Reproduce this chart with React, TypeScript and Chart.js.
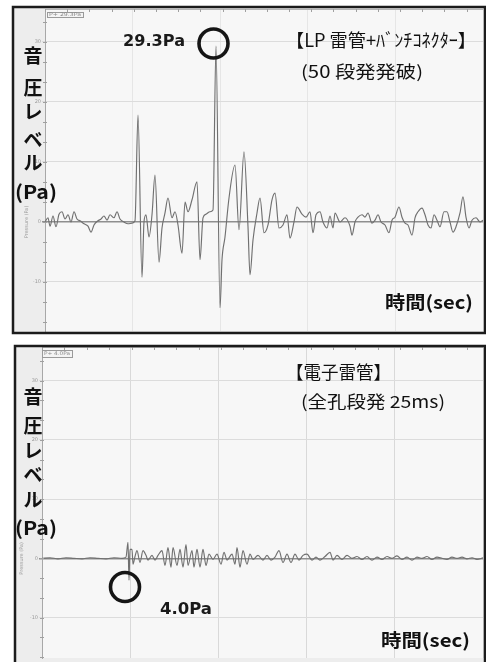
import React, { useEffect, useRef } from "react";
import { Chart, registerables } from "chart.js";

Chart.register(...registerables);

// ---------- DATA ----------
// Upper panel: LP detonator + bunch connector (time in arbitrary units, pressure in Pa)
const TOP_TIME = [
  0, 3, 5, 8, 11, 14, 17, 20, 23, 26, 29, 32, 35, 39, 43, 46, 49, 53, 56, 59, 62, 65, 69, 72, 75, 79, 83, 87, 90,
  93, 97, 99, 101, 104, 107, 110, 114, 117, 120, 123, 127, 130, 133, 137, 140, 143, 147, 152, 155, 158, 161, 165, 168,
  171, 175, 177, 180, 184, 190, 194, 199, 203, 205, 208, 212, 215, 219, 223, 227, 230, 234, 238, 242, 245, 249, 252,
  257, 261, 265, 268, 271, 275, 278, 282, 285, 288, 290, 295, 300, 305, 307, 310, 313, 317, 320, 323, 327, 330, 333,
  336, 340, 344, 347, 350, 354, 357, 360, 363, 367, 370, 373, 377, 380, 383, 386, 389, 392, 395, 399, 402, 405, 408,
  411, 415, 418, 421, 424, 427, 431, 435, 438,
];
const TOP_PA = [
  0, 0.7, -0.7, 1.0, -0.8, 1.3, 1.7, 0.5, 1.2, 0, 1.7, 0.5, 0.2, -0.3, -0.7, -1.7, -0.5, 0.2, 0.5, 1.0, 0.3, 1.2, 0.7,
  1.7, 0.5, 0, -0.3, -0.2, 0.2,
  17.8, -9.2, 0, 1.2, -2.5, 1.2, 7.8, -6.7, -1.0, 1.5, 4.0, 0.7, 1.7, -0.5, -5.2, 3.3, 1.7, 3.7, 6.7, -6.3, 0.7, 1.3,
  1.7, 2.0, 29.3, -14.3, -6.3, -2.5, 4.0, 9.5, -1.3, 11.7, -0.8, -8.8, -3.0, 1.5, 4.0, -1.8, -0.5, 3.7, 4.8, -1.0,
  -0.5, 1.2, -2.7, 0, 2.5, 1.3, 0.8, 1.7, -1.8, 1.2, 1.7, 0, -1.0, 1.0, -1.0, 1.5, 0, 0.7, -0.7, -2.2, 0, 0.8, 1.2,
  0.8, 1.5, -0.2, 0.3, 1.2, 0, -0.5, -1.8, 0.3, 0.8, 2.5, 0.8, -0.2, -0.5, -2.2, 0.7, 1.7, 2.3, 1.2, -0.5, -1.0, 1.2,
  0.3, -0.8, 1.7, 1.7, 0, -1.7, -0.8, 1.5, 4.2, 0.8, -1.0, 0.3, 0.7, 0, 0.3,
];

// Lower panel: electronic detonator
const BOTTOM_TIME = [
  0, 8, 16, 24, 32, 40, 48, 56, 64, 72, 80, 84, 86, 87, 88, 90, 91, 93, 95, 98, 101, 104, 106, 110, 113, 116, 120,
  123, 126, 129, 131, 135, 138, 141, 144, 146, 150, 152, 155, 158, 161, 164, 167, 171, 175, 179, 182, 185, 190, 193,
  195, 198, 201, 205, 208, 211, 216, 221, 225, 229, 233, 237, 241, 245, 249, 253, 257, 261, 265, 270, 274, 278, 283,
  288, 291, 295, 300, 305, 310, 315, 320, 325, 330, 335, 340, 345, 350, 355, 360, 365, 370, 375, 380, 385, 390, 395,
  400, 405, 410, 415, 420, 425, 430, 435, 441,
];
const BOTTOM_PA = [
  0, 0.1, -0.1, 0.1, 0, -0.1, 0.1, 0, -0.1, 0.1, 0, 0.2, 2.7, -3.7, 1.5, 1.5, -1.0, 0.3, 1.3, -0.7, 1.3, 0.5, -0.3,
  0.5, -0.3, 0.5, 1.3, -1.2, 1.8, -1.5, 1.8, -1.2, 1.5, -1.5, 2.3, -1.2, 1.3, -1.5, 1.5, -1.5, 1.5, -1.2, 0.7, -0.2,
  0.7, -1.0, 1.0, -0.3, 0.7, -1.0, 1.8, -1.5, 1.3, -1.0, 0.7, -0.2, 0.5, -0.3, 0.5, -0.3, 0.2, 1.3, -0.7, 0.7, -0.7,
  0.7, -0.3, 0.5, 0.7, -0.3, 0.2, -0.3, 0.3, 1.0, -0.3, 0.5, -0.2, 0.5, 0, 0.3, -0.2, 0.3, -0.3, 0.2, -0.2, 0.3, 0,
  0.4, -0.2, 0.2, -0.3, 0.2, 0, 0.3, -0.2, 0.2, 0, -0.2, 0.2, 0, 0.2, -0.1, 0.1, -0.2, 0.1,
];

// Texts
const Y_LABEL_CHARS = ["音", "圧", "レ", "ベ", "ル"];
const UNIT_LABEL = "(Pa)";
const X_LABEL = "時間(sec)";
const AXIS_NAME = "Pressure (Pa)";
const TOP_TITLE = "【LP 雷管+ﾊﾞﾝﾁｺﾈｸﾀｰ】";
const TOP_SUBTITLE = "(50 段発発破)";
const TOP_PEAK = "29.3Pa";
const TOP_TAG = "P+ 29.3Pa";
const BOTTOM_TITLE = "【電子雷管】";
const BOTTOM_SUBTITLE = "(全孔段発 25ms)";
const BOTTOM_PEAK = "4.0Pa";
const BOTTOM_TAG = "P+ 4.0Pa";
const Y_TICK_STEP = 10;

// ---------- helpers ----------
const CJK = '"Noto Sans CJK JP", "Noto Sans", sans-serif';

function fitText(ctx: CanvasRenderingContext2D, text: string, x1: number, x2: number, yc: number, font: string, color = "#111") {
  ctx.save();
  ctx.font = font;
  const w = ctx.measureText(text).width || 1;
  ctx.translate(x1, yc);
  ctx.scale((x2 - x1) / w, 1);
  ctx.fillStyle = color;
  ctx.textAlign = "left";
  ctx.textBaseline = "middle";
  ctx.fillText(text, 0, 0);
  ctx.restore();
}

type Spec = {
  time: number[];
  values: number[];
  canvasH: number;
  offsetY: number;
  padding: { left: number; right: number; top: number; bottom: number };
  axisWidth: number;
  yMin: number;
  yMax: number;
  xMax: number;
  xStep: number;
  gridColor: string;
  border: { x: number; y: number; w: number; h: number };
  charYs: number[];
  unitY: number;
  title: string;
  titleBox: [number, number, number];
  subtitle: string;
  subBox: [number, number, number];
  peak: string;
  peakBox: [number, number, number];
  circle: [number, number];
  xLabelBox: [number, number, number];
  tag: string;
  tagBox: [number, number, number, number];
  axisNameX: number;
};

function makePlugin(s: Spec) {
  const oy = s.offsetY;
  return {
    id: "panelDeco",
    beforeDraw(chart: any) {
      const { ctx, chartArea: a } = chart;
      ctx.save();
      ctx.fillStyle = "#ffffff";
      ctx.fillRect(0, 0, chart.width, chart.height);
      ctx.fillStyle = "#ededed";
      ctx.fillRect(s.border.x, s.border.y, s.border.w, s.border.h);
      ctx.fillStyle = "#f7f7f7";
      ctx.fillRect(a.left, a.top, a.right - a.left, a.bottom - a.top);
      ctx.restore();
    },
    afterDraw(chart: any) {
      const { ctx, chartArea: a } = chart;
      const y = chart.scales.y;
      const x = chart.scales.x;
      ctx.save();
      // top frame line of the plot
      ctx.strokeStyle = "#b5b5b5";
      ctx.lineWidth = 1;
      ctx.beginPath();
      ctx.moveTo(a.left, a.top + 0.5);
      ctx.lineTo(a.right, a.top + 0.5);
      ctx.stroke();
      // minor ticks on y axis
      ctx.strokeStyle = "#a0a0a0";
      for (let k = -6; k <= 12; k++) {
        const v = (k * Y_TICK_STEP) / 3;
        if (v < s.yMin || v > s.yMax) continue;
        const py = Math.round(y.getPixelForValue(v)) + 0.5;
        ctx.beginPath();
        ctx.moveTo(a.left - 2, py);
        ctx.lineTo(a.left + 2, py);
        ctx.stroke();
      }
      // tick marks on top frame
      for (let t = 0; t <= s.xMax; t += s.xStep / 4) {
        const px = Math.round(x.getPixelForValue(t)) + 0.5;
        ctx.beginPath();
        ctx.moveTo(px, a.top);
        ctx.lineTo(px, a.top + 3);
        ctx.stroke();
      }
      // rotated tiny axis name
      ctx.save();
      ctx.translate(s.axisNameX, y.getPixelForValue(0));
      ctx.rotate(-Math.PI / 2);
      ctx.font = '5px "DejaVu Sans"';
      ctx.fillStyle = "#9a9a9a";
      ctx.textAlign = "center";
      ctx.textBaseline = "middle";
      ctx.fillText(AXIS_NAME, 0, 0);
      ctx.restore();
      // tag box
      const [tx1, ty1, tx2, ty2] = s.tagBox;
      ctx.fillStyle = "#f4f4f4";
      ctx.fillRect(tx1, ty1 - oy, tx2 - tx1, ty2 - ty1);
      ctx.strokeStyle = "#9a9a9a";
      ctx.lineWidth = 1;
      ctx.strokeRect(tx1 + 0.5, ty1 - oy + 0.5, tx2 - tx1, ty2 - ty1);
      fitText(ctx, s.tag, tx1 + 2, tx2 - 2, (ty1 + ty2) / 2 - oy, '5px "DejaVu Sans"', "#8a8a8a");

      // panel border
      ctx.strokeStyle = "#1c1c1c";
      ctx.lineWidth = 2.5;
      ctx.strokeRect(s.border.x, s.border.y, s.border.w, s.border.h);

      // y label characters
      ctx.fillStyle = "#111";
      ctx.font = `bold 19px ${CJK}`;
      ctx.textAlign = "center";
      ctx.textBaseline = "middle";
      Y_LABEL_CHARS.forEach((c, i) => ctx.fillText(c, 33, s.charYs[i] - oy));
      fitText(ctx, UNIT_LABEL, 15, 57, s.unitY - oy, `bold 19px ${CJK}`);

      // titles
      fitText(ctx, s.title, s.titleBox[0], s.titleBox[1], s.titleBox[2] - oy, `18px ${CJK}`);
      fitText(ctx, s.subtitle, s.subBox[0], s.subBox[1], s.subBox[2] - oy, `17px ${CJK}`);
      // peak label
      fitText(ctx, s.peak, s.peakBox[0], s.peakBox[1], s.peakBox[2] - oy, 'bold 15px "DejaVu Sans"', "#1a1a1a");
      // circle
      ctx.strokeStyle = "#151515";
      ctx.lineWidth = 3.6;
      ctx.beginPath();
      ctx.arc(s.circle[0], s.circle[1] - oy, 14.5, 0, Math.PI * 2);
      ctx.stroke();
      // x label
      fitText(ctx, X_LABEL, s.xLabelBox[0], s.xLabelBox[1], s.xLabelBox[2] - oy, `bold 18px ${CJK}`);
      ctx.restore();
    },
  };
}

function makeConfig(s: Spec): any {
  const points = s.time.map((t, i) => ({ x: t, y: s.values[i] }));
  return {
    type: "line",
    data: {
      datasets: [
        {
          data: points,
          borderColor: "#707070",
          borderWidth: 1.15,
          pointRadius: 0,
          cubicInterpolationMode: "monotone",
          fill: false,
        },
      ],
    },
    options: {
      responsive: false,
      maintainAspectRatio: false,
      animation: false,
      devicePixelRatio: 1,
      layout: { padding: s.padding },
      plugins: { legend: { display: false }, tooltip: { enabled: false }, title: { display: false } },
      scales: {
        x: {
          type: "linear",
          min: 0,
          max: s.xMax,
          ticks: { display: false, stepSize: s.xStep },
          border: { display: false },
          grid: { color: s.gridColor, lineWidth: 1, drawTicks: false },
          afterFit: (sc: any) => {
            sc.height = 0;
          },
        },
        y: {
          type: "linear",
          min: s.yMin,
          max: s.yMax,
          ticks: {
            stepSize: Y_TICK_STEP,
            includeBounds: false,
            font: { size: 5, family: "DejaVu Sans" },
            color: "#9a9a9a",
            padding: 1,
          },
          border: { color: "#a8a8a8", width: 1 },
          grid: {
            color: (c: any) => (c.tick && c.tick.value === 0 ? "#8f8f8f" : "#dcdcdc"),
            lineWidth: (c: any) => (c.tick && c.tick.value === 0 ? 1.5 : 1),
            tickLength: 3,
          },
          afterFit: (sc: any) => {
            sc.width = s.axisWidth;
          },
        },
      },
    },
    plugins: [makePlugin(s)],
  };
}

const SPEC_TOP: Spec = {
  time: TOP_TIME,
  values: TOP_PA,
  canvasH: 338,
  offsetY: 0,
  padding: { left: 15, right: 3, top: 9, bottom: 7 },
  axisWidth: 30,
  yMin: -18.17,
  yMax: 35.5,
  xMax: 438,
  xStep: 88.75,
  gridColor: "#e6e6e6",
  border: { x: 13, y: 7, w: 472, h: 326 },
  charYs: [56, 88, 112, 140, 163],
  unitY: 192,
  title: TOP_TITLE,
  titleBox: [286, 476, 40],
  subtitle: TOP_SUBTITLE,
  subBox: [301, 423, 72],
  peak: TOP_PEAK,
  peakBox: [123, 185, 42],
  circle: [213.5, 43.5],
  xLabelBox: [385, 473, 302],
  tag: TOP_TAG,
  tagBox: [47, 12, 83, 17],
  axisNameX: 27,
};

const SPEC_BOTTOM: Spec = {
  time: BOTTOM_TIME,
  values: BOTTOM_PA,
  canvasH: 324,
  offsetY: 338,
  padding: { left: 17, right: 3, top: 9, bottom: 0 },
  axisWidth: 25,
  yMin: -16.83,
  yMax: 35.67,
  xMax: 441,
  xStep: 89.5,
  gridColor: "#d9d9d9",
  border: { x: 15, y: 8, w: 470, h: 340 },
  charYs: [397, 426, 451, 475, 500],
  unitY: 528,
  title: BOTTOM_TITLE,
  titleBox: [286, 391, 372],
  subtitle: BOTTOM_SUBTITLE,
  subBox: [301, 445, 402],
  peak: BOTTOM_PEAK,
  peakBox: [160, 212, 610],
  circle: [125, 587],
  xLabelBox: [381, 470, 640],
  tag: BOTTOM_TAG,
  tagBox: [42, 350, 72, 357],
  axisNameX: 22,
};

export default function App() {
  const refTop = useRef<HTMLCanvasElement>(null);
  const refBottom = useRef<HTMLCanvasElement>(null);

  useEffect(() => {
    const a = new Chart(refTop.current as HTMLCanvasElement, makeConfig(SPEC_TOP));
    const b = new Chart(refBottom.current as HTMLCanvasElement, makeConfig(SPEC_BOTTOM));
    return () => {
      a.destroy();
      b.destroy();
    };
  }, []);

  return (
    <div
      style={{
        position: "absolute",
        left: 0,
        top: 0,
        width: 486,
        height: 662,
        overflow: "hidden",
        background: "#ffffff",
      }}
    >
      <canvas
        ref={refTop}
        width={486}
        height={338}
        style={{ position: "absolute", left: 0, top: 0, width: 486, height: 338 }}
      />
      <canvas
        ref={refBottom}
        width={486}
        height={324}
        style={{ position: "absolute", left: 0, top: 338, width: 486, height: 324 }}
      />
    </div>
  );
}
